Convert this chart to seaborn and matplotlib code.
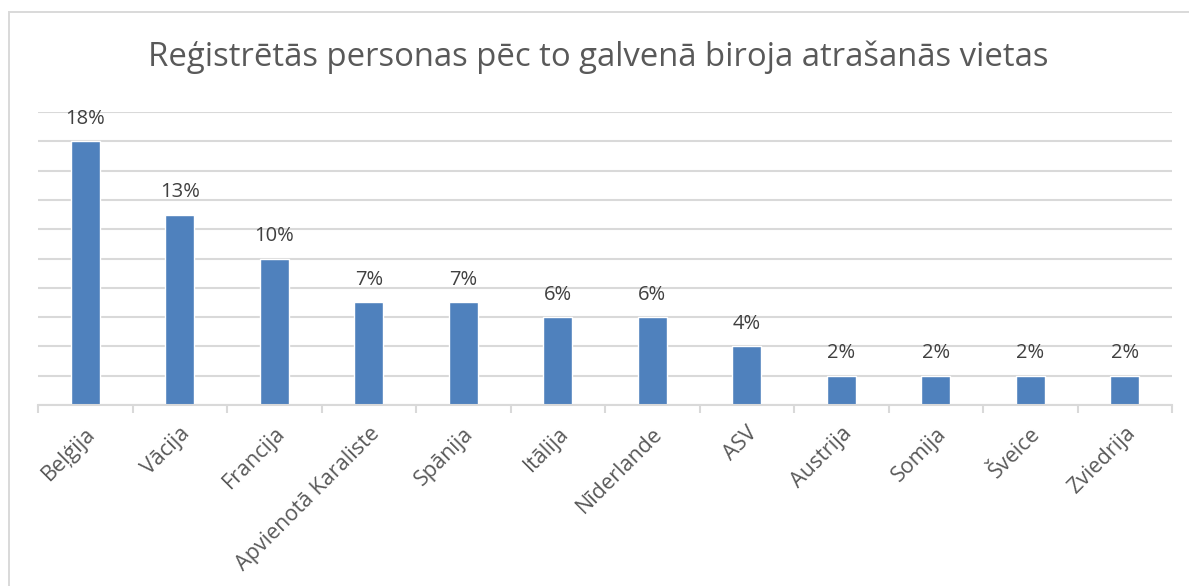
import matplotlib
matplotlib.use("Agg")
import matplotlib.pyplot as plt
import seaborn as sns
import pandas as pd
from matplotlib.patches import Rectangle
from matplotlib.ticker import MultipleLocator

# valstis un procenti
valstis = ["Beļģija", "Vācija", "Francija", "Apvienotā Karaliste", "Spānija", "Itālija",
           "Nīderlande", "ASV", "Austrija", "Somija", "Šveice", "Zviedrija"]
procenti = [18, 13, 10, 7, 7, 6, 6, 4, 2, 2, 2, 2]
uzraksti = ["18%", "13%", "10%", "7%", "7%", "6%", "6%", "4%", "2%", "2%", "2%", "2%"]
virsraksts = "Reģistrētās personas pēc to galvenā biroja atrašanās vietas"

df = pd.DataFrame({"valsts": valstis, "procenti": procenti})

sns.set_style("white")
plt.rcParams["font.family"] = ["Open Sans", "DejaVu Sans"]

fig = plt.figure(figsize=(11.89, 5.86), dpi=100)
ax = fig.add_axes([38 / 1189, 1 - 405 / 586, (1172 - 38) / 1189, (405 - 112) / 586])

sns.barplot(data=df, x="valsts", y="procenti", color="#4F81BD", saturation=1,
            width=0.31, ax=ax)

ax.set_ylim(0, 20)
ax.set_xlim(-0.5, len(valstis) - 0.5)
ax.yaxis.set_major_locator(MultipleLocator(2))
ax.grid(axis="y", color="#D9D9D9", lw=1.5)
ax.set_axisbelow(True)
ax.set_yticklabels([])
ax.tick_params(axis="y", length=0)
for s in ["top", "right", "left"]:
    ax.spines[s].set_visible(False)
ax.spines["bottom"].set_color("#D9D9D9")
ax.spines["bottom"].set_linewidth(1.5)

# kategoriju robežu atzīmes
ax.set_xticks([i - 0.5 for i in range(len(valstis) + 1)], minor=True)
ax.tick_params(axis="x", which="minor", length=6, width=1.5, color="#D9D9D9", bottom=True)
ax.tick_params(axis="x", which="major", length=0, pad=13)
ax.set_xticks(range(len(valstis)))
ax.set_xticklabels(valstis, rotation=45, ha="right", rotation_mode="anchor",
                   fontsize=15.5, color="#595959")
ax.set_xlabel("")
ax.set_ylabel("")

ax.bar_label(ax.containers[0], labels=uzraksti, padding=9, fontsize=14.5, color="#404040")

fig.text(598 / 1189, 1 - 57 / 586, virsraksts, ha="center", va="center",
         fontsize=23.7, color="#595959")

# rāmis ap diagrammu
fig.patches.append(Rectangle((9 / 1189, -0.2), 2, 1.2 - 12 / 586, transform=fig.transFigure,
                             fill=False, ec="#D9D9D9", lw=1.4))

fig.savefig("out.png", dpi=100)
